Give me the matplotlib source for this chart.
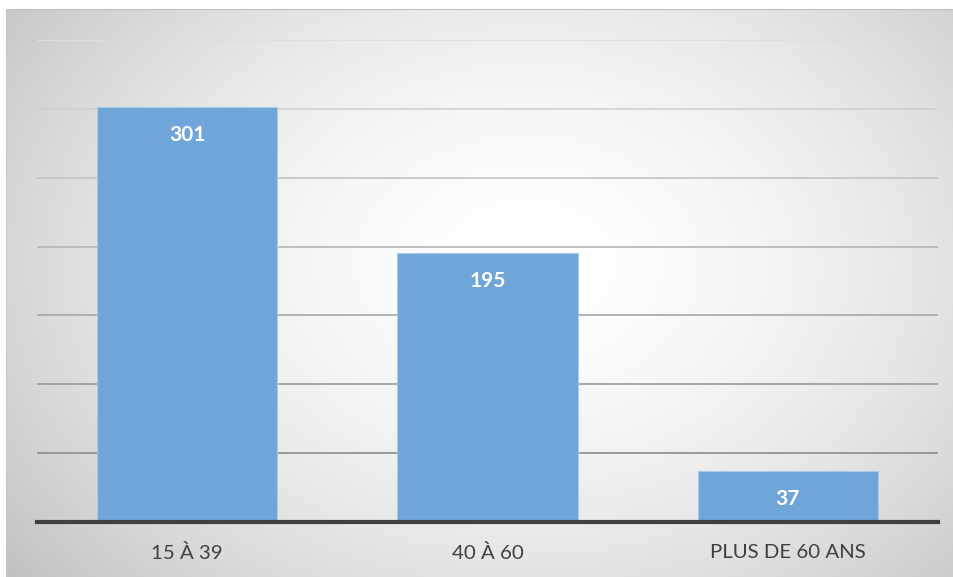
import numpy as np
import matplotlib.pyplot as plt

categories = ["15 À 39", "40 À 60", "PLUS DE 60 ANS"]
values = [301, 195, 37]
y_ticks = [0, 50, 100, 150, 200, 250, 300, 350]

W, H, DPI = 954, 577, 100
fig = plt.figure(figsize=(W / DPI, H / DPI), dpi=DPI)
fig.patch.set_facecolor("white")

# radial grey background of the chart area
bg = fig.add_axes([6 / W, 0, (W - 6) / W, (H - 9) / H])
gx, gy = np.meshgrid(np.linspace(0, 1, 400), np.linspace(0, 1, 240))
r = np.sqrt(((gx - 0.55) / 0.72) ** 2 + ((gy - 0.45) / 0.9) ** 2)
shade = 1.0 - 0.25 * np.clip(r, 0, 1.15) ** 1.7
bg.imshow(np.dstack([shade] * 3), extent=[0, 1, 0, 1], aspect="auto", origin="upper")
bg.axhline(1, color="#bdbdbd", lw=1.5)
bg.axvline(0, color="#c4c4c4", lw=1.2)
bg.set_axis_off()

ax = fig.add_axes([37 / W, (H - 522) / H, (938 - 37) / W, (522 - 40) / H])
ax.patch.set_alpha(0)

# gridlines darken toward the bottom
greys = np.linspace(0.55, 0.87, len(y_ticks) - 1)
for yv, g in zip(y_ticks[1:], greys):
    ax.axhline(yv, color=(g, g, g), lw=1.2, zorder=1)

x = np.arange(len(categories))
bars = ax.bar(x, values, width=0.6, color="#6fa5d8", edgecolor="#a9cbea",
              linewidth=0.8, zorder=2)
ax.axhline(0, color="#404040", lw=3, zorder=3, clip_on=False)

for b, v in zip(bars, values):
    ax.annotate(str(v), (b.get_x() + b.get_width() / 2, v), xytext=(0, -28),
                textcoords="offset pixels", ha="center", va="center",
                color="white", fontsize=15, fontweight="bold", family="Lato")

ax.set_xlim(-0.5, 2.5)
ax.set_ylim(0, 350)
ax.set_yticks([])
ax.set_xticks(x)
ax.set_xticklabels(categories, fontsize=14.7, color="#404040", family="Lato")
ax.tick_params(axis="x", length=0, pad=16)
for s in ax.spines.values():
    s.set_visible(False)

fig.savefig("out.png", dpi=DPI)
